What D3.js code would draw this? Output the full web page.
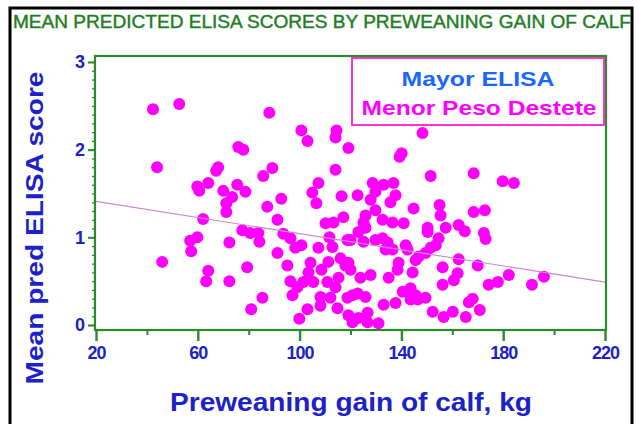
<!DOCTYPE html>
<html><head><meta charset="utf-8">
<script src="https://cdn.jsdelivr.net/npm/d3@7"></script>
<style>body{margin:0;background:#fff}svg{display:block}text{font-family:Arial,"Liberation Sans",sans-serif}</style>
</head><body><svg id="c" width="639" height="424"></svg>
<script>
const titleText = "MEAN PREDICTED ELISA SCORES BY PREWEANING GAIN OF CALF";
const xTitle = "Preweaning gain of calf, kg";
const yTitle = "Mean pred ELISA score";
const legendLines = ["Mayor ELISA", "Menor Peso Destete"];
const xTicks = [20, 60, 100, 140, 180, 220];
const xMinor = [40, 80, 120, 160, 200];
const yTicks = [0, 1, 2, 3];
const gain = [42.4,52.7,88.1,100.7,103.1,114.5,114.1,119.2,44.0,75.9,77.9,68.0,67.2,89.3,85.7,114.1,59.8,60.6,64.1,70.0,75.5,78.7,73.5,107.4,105.0,92.8,116.5,148.3,140.1,139.3,151.5,168.4,179.8,184.2,128.7,133.0,136.9,129.8,122.8,137.7,135.7,127.9,144.8,155.0,155.4,71.2,71.2,87.3,106.6,91.3,117.2,110.2,113.3,77.5,80.6,83.8,84.2,62.1,93.6,96.4,111.7,112.9,118.8,57.0,59.8,57.4,72.4,91.3,98.3,100.7,107.4,46.0,79.4,95.2,104.3,111.3,116.1,118.0,64.1,63.3,72.4,96.4,99.1,101.5,105.4,103.5,108.6,110.9,115.3,114.1,97.2,108.2,112.1,108.2,114.9,118.8,119.2,85.4,81.0,103.1,99.9,125.9,129.8,125.1,132.6,136.5,140.9,150.3,157.4,168.4,172.8,123.1,125.9,120.0,125.1,129.8,132.6,134.6,136.5,133.8,141.7,142.4,150.3,154.6,153.5,151.5,149.5,146.8,145.6,162.5,156.2,162.1,160.6,156.2,144.4,138.9,138.5,135.0,127.9,123.9,119.2,120.0,120.8,122.8,125.9,140.5,143.6,145.6,143.6,146.4,149.5,137.7,133.0,152.3,156.6,160.2,165.3,166.5,168.0,123.1,126.7,126.7,131.0,120.8,162.5,164.9,172.4,173.1,170.0,174.3,177.9,182.2,191.3,196.0,170.8];
const elisa = [2.46,2.52,2.42,2.22,2.10,2.22,2.14,2.02,1.80,2.03,2.00,1.80,1.76,1.79,1.70,1.77,1.58,1.53,1.62,1.53,1.60,1.52,1.46,1.62,1.51,1.44,1.47,2.19,1.96,1.92,1.70,1.73,1.64,1.62,1.62,1.60,1.62,1.52,1.48,1.48,1.40,1.43,1.33,1.37,1.25,1.39,1.29,1.35,1.39,1.20,1.23,1.16,1.17,1.08,1.05,1.05,0.95,1.21,1.04,0.99,1.00,0.89,0.97,0.96,1.00,0.84,0.94,0.82,0.88,0.91,0.88,0.72,0.66,0.68,0.71,0.72,0.76,0.68,0.62,0.50,0.50,0.50,0.43,0.49,0.49,0.60,0.63,0.49,0.54,0.43,0.34,0.32,0.31,0.22,0.19,0.31,0.11,0.31,0.18,0.18,0.07,1.25,1.31,1.17,1.20,1.17,1.16,1.11,1.11,1.29,1.31,1.06,1.11,0.97,0.95,0.97,0.99,0.94,0.86,0.86,0.91,0.86,1.06,0.99,0.91,0.88,0.82,0.78,0.74,0.75,0.66,0.59,0.51,0.46,0.60,0.71,0.63,0.54,0.57,0.54,0.71,0.63,0.34,0.36,0.32,0.38,0.42,0.34,0.29,0.29,0.31,0.25,0.23,0.15,0.09,0.15,0.09,0.26,0.30,0.08,0.03,0.14,0.02,0.03,1.14,1.07,1.05,0.98,0.68,0.46,0.49,0.57,0.46,0.55,0.17];
const fitX = [20, 220];
const fitY = [1.41, 0.49];

const svg = d3.select("#c");
const x = d3.scaleLinear().domain([20, 220]).range([96, 605]);
const y = d3.scaleLinear().domain([0, 3]).range([325, 62]);
const green = "#2b8a2b", blue = "#1c22c8";

// outer black border
svg.append("rect").attr("x", 10).attr("y", 8).attr("width", 622).attr("height", 430)
  .attr("fill", "#fff").attr("stroke", "#000").attr("stroke-width", 3);

svg.append("text").attr("x", 322).attr("y", 28).attr("text-anchor", "middle")
  .attr("fill", "#1e7d25").attr("stroke", "#1e7d25").attr("stroke-width", 0.4)
  .attr("font-size", 17.5).attr("textLength", 618)
  .attr("lengthAdjust", "spacingAndGlyphs").text(titleText);

// points
svg.append("g").selectAll("circle").data(gain.map((g, i) => [g, elisa[i]])).join("circle")
  .attr("cx", d => x(d[0])).attr("cy", d => y(d[1])).attr("r", 6)
  .attr("fill", "#ff00ff");

// regression line
svg.append("line").attr("x1", x(fitX[0])).attr("y1", y(fitY[0]))
  .attr("x2", x(fitX[1])).attr("y2", y(fitY[1]))
  .attr("stroke", "#c98ac9").attr("stroke-width", 1.2);

// frame
svg.append("rect").attr("x", 95).attr("y", 56).attr("width", 511).attr("height", 274)
  .attr("fill", "none").attr("stroke", green).attr("stroke-width", 2.2);

// y axis
const yAx = svg.append("g").attr("transform", "translate(95,0)")
  .call(d3.axisLeft(y).tickValues(d3.range(0, 3.001, 0.1)).tickSize(3).tickFormat(""));
yAx.select(".domain").remove();
yAx.selectAll("line").attr("stroke", green).attr("stroke-width", 1.3);
const yMaj = svg.append("g").attr("transform", "translate(95,0)")
  .call(d3.axisLeft(y).tickValues(yTicks).tickSize(7).tickFormat(d3.format("d")).tickPadding(3));
yMaj.select(".domain").remove();
yMaj.selectAll("line").attr("stroke", green).attr("stroke-width", 2);
yMaj.selectAll("text").attr("fill", blue).attr("font-size", 18).attr("font-weight", "bold")
  .attr("font-family", "Arial, 'Liberation Sans', sans-serif");

// x axis
const xMin = svg.append("g").attr("transform", "translate(0,330)")
  .call(d3.axisBottom(x).tickValues(xMinor).tickSize(5).tickFormat(""));
xMin.select(".domain").remove();
xMin.selectAll("line").attr("stroke", green).attr("stroke-width", 2);
const xMaj = svg.append("g").attr("transform", "translate(0,330)")
  .call(d3.axisBottom(x).tickValues(xTicks).tickSize(11).tickFormat(d3.format("d")).tickPadding(5));
xMaj.select(".domain").remove();
xMaj.selectAll("line").attr("stroke", green).attr("stroke-width", 2.4);
xMaj.selectAll("text").attr("fill", blue).attr("font-size", 18).attr("font-weight", "bold")
  .attr("font-family", "Arial, 'Liberation Sans', sans-serif").attr("letter-spacing", -1);

// axis titles
svg.append("text").attr("x", 351).attr("y", 411).attr("text-anchor", "middle")
  .attr("fill", blue).attr("font-size", 26).attr("font-weight", "bold")
  .attr("textLength", 362).attr("lengthAdjust", "spacingAndGlyphs").text(xTitle);
svg.append("text").attr("transform", "translate(43,228) rotate(-90)").attr("text-anchor", "middle")
  .attr("fill", blue).attr("font-size", 24).attr("font-weight", "bold")
  .attr("textLength", 313).attr("lengthAdjust", "spacingAndGlyphs").text(yTitle);

// legend
svg.append("rect").attr("x", 352).attr("y", 58).attr("width", 252).attr("height", 67)
  .attr("fill", "#fff").attr("stroke", "#ff33cc").attr("stroke-width", 2);
svg.append("text").attr("x", 478).attr("y", 86).attr("text-anchor", "middle")
  .attr("fill", "#1a66ff").attr("font-size", 21).attr("font-weight", "bold")
  .attr("textLength", 153).attr("lengthAdjust", "spacingAndGlyphs").text(legendLines[0]);
svg.append("text").attr("x", 479).attr("y", 115).attr("text-anchor", "middle")
  .attr("fill", "#ff00ff").attr("font-size", 21).attr("font-weight", "bold")
  .attr("textLength", 235).attr("lengthAdjust", "spacingAndGlyphs").text(legendLines[1]);
</script></body></html>
